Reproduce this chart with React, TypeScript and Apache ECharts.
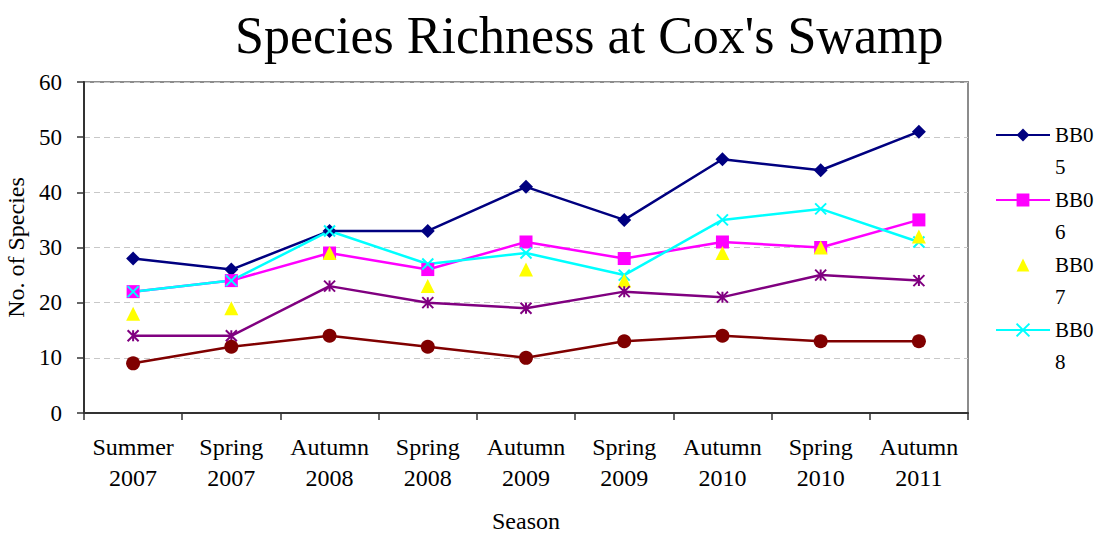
import React, { useEffect, useRef } from "react";
import * as echarts from "echarts";

const categories = [
  "Summer\n2007",
  "Spring\n2007",
  "Autumn\n2008",
  "Spring\n2008",
  "Autumn\n2009",
  "Spring\n2009",
  "Autumn\n2010",
  "Spring\n2010",
  "Autumn\n2011",
];
const yTicks = [0, 10, 20, 30, 40, 50, 60];

const bb05 = [28, 26, 33, 33, 41, 35, 46, 44, 51];
const bb06 = [22, 24, 29, 26, 31, 28, 31, 30, 35];
const bb07 = [18, 19, 29, 23, 26, 24, 29, 30, 32];
const bb08 = [22, 24, 33, 27, 29, 25, 35, 37, 31];
const bb09 = [14, 14, 23, 20, 19, 22, 21, 25, 24];
const bb10 = [9, 12, 14, 12, 10, 13, 14, 13, 13];

const legendNames = ["BB05", "BB06", "BB07", "BB08"];

const FONT = "Liberation Serif, serif";
const CROSS = "path://M0,0 L10,10 M10,0 L0,10";
const STAR = "path://M0,0 L10,10 M10,0 L0,10 M5,0 L5,10";

export default function App() {
  const ref = useRef<HTMLDivElement>(null);
  useEffect(() => {
    document.body.style.margin = "0";
    const chart = echarts.init(ref.current!, null, { renderer: "svg" });
    const lineSeries = (
      name: string,
      data: number[],
      color: string,
      symbol: string,
      symbolSize: number,
      stroke = false,
      noLine = false
    ) => ({
      name,
      type: "line",
      data,
      symbol,
      symbolSize,
      showAllSymbol: true,
      lineStyle: noLine ? { color, width: 0, opacity: 0 } : { color, width: 2.5 },
      itemStyle: stroke
        ? { color, borderColor: color, borderWidth: 2 }
        : { color, borderWidth: 0 },
      emphasis: { disabled: true },
    });
    chart.setOption({
      animation: false,
      textStyle: { fontFamily: FONT },
      title: {
        text: "Species Richness at Cox's Swamp",
        left: 230,
        top: 4,
        textStyle: {
          fontFamily: FONT,
          fontSize: 52,
          fontWeight: "normal",
          color: "#000",
        },
      },
      grid: {
        left: 84,
        right: 126,
        top: 82,
        bottom: 120,
        outerBoundsMode: "none",
        containLabel: false,
        show: true,
        borderColor: "#8c8c8c",
        borderWidth: 2,
        backgroundColor: "#fff",
      },
      legend: {
        data: legendNames,
        orient: "vertical",
        left: 990,
        top: 82,
        itemWidth: 54,
        itemHeight: 16,
        itemGap: -31,
        formatter: (n: string) => "\n" + n.slice(0, 3) + "\n" + n.slice(3),
        textStyle: {
          fontFamily: FONT,
          fontSize: 21,
          lineHeight: 32,
          color: "#000",
        },
      },
      xAxis: {
        type: "category",
        data: categories,
        boundaryGap: true,
        name: "Season",
        nameLocation: "middle",
        nameGap: 96,
        nameTextStyle: { fontFamily: FONT, fontSize: 24, color: "#000" },
        axisLine: { lineStyle: { color: "#333", width: 2 } },
        axisTick: { show: true, length: 7, lineStyle: { color: "#333", width: 1.5 } },
        axisLabel: {
          fontFamily: FONT,
          fontSize: 24,
          lineHeight: 31,
          color: "#000",
          margin: 18,
          interval: 0,
        },
      },
      yAxis: {
        type: "value",
        min: yTicks[0],
        max: yTicks[yTicks.length - 1],
        interval: 10,
        name: "No. of Species",
        nameLocation: "middle",
        nameGap: 52,
        nameTextStyle: { fontFamily: FONT, fontSize: 24, color: "#000" },
        axisLine: { show: true, lineStyle: { color: "#333", width: 2 } },
        axisTick: { show: true, length: 7, lineStyle: { color: "#333", width: 1.5 } },
        axisLabel: { fontFamily: FONT, fontSize: 23, color: "#000", margin: 22 },
        splitLine: { show: true, lineStyle: { color: "#c8c8c8", type: [6, 4], width: 1 } },
      },
      series: [
        lineSeries("BB05", bb05, "#000080", "diamond", 14),
        lineSeries("BB06", bb06, "#ff00ff", "rect", 13),
        lineSeries("BB08", bb08, "#00ffff", CROSS, 11, true),
        lineSeries("BB07", bb07, "#ffff00", "triangle", 14, false, true),
        lineSeries("BB09", bb09, "#800080", STAR, 11, true),
        lineSeries("BB10", bb10, "#800000", "circle", 14),
      ],
    });
    return () => chart.dispose();
  }, []);
  return (
    <div
      ref={ref}
      style={{ position: "absolute", left: 0, top: 0, width: 1094, height: 533 }}
    />
  );
}
